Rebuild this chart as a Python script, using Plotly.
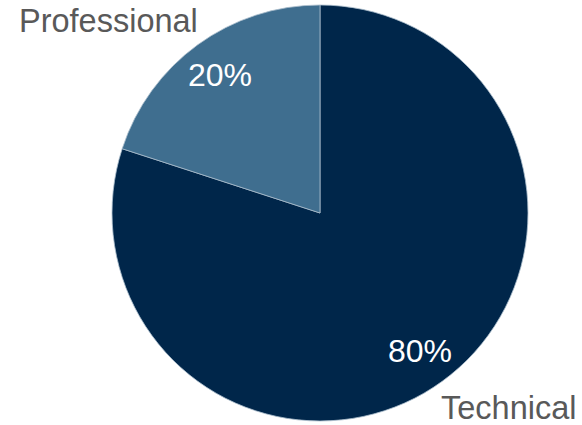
import math
import plotly.graph_objects as go

# Share of roles by category
categories = ["Technical", "Professional"]
shares = [80, 20]
slice_colors = ["#00264A", "#3F6E8F"]

W, H = 582, 425
cx, cy, r = 320, 213, 208  # pie centre and radius in pixels
label_radius = 0.82            # fraction of the radius for percentage labels

fig = go.Figure(
    go.Pie(
        labels=categories,
        values=shares,
        sort=False,
        direction="clockwise",
        rotation=0,
        marker=dict(colors=slice_colors, line=dict(color="#A9BCCB", width=0.8)),
        textinfo="none",
        hoverinfo="label+percent",
        domain=dict(x=[(cx - r) / W, (cx + r) / W], y=[(H - cy - r) / H, (H - cy + r) / H]),
        showlegend=False,
    )
)

# Percentage labels on each slice's bisector
pct_font = dict(family="Liberation Sans, Arial, sans-serif", size=32, color="white")
total = sum(shares)
cum = 0
for value in shares:
    theta = 2 * math.pi * (cum + value / 2) / total  # clockwise from 12 o'clock
    px = cx + label_radius * r * math.sin(theta)
    py = cy - label_radius * r * math.cos(theta)
    fig.add_annotation(text=f"{round(100 * value / total)}%", x=px / W, y=1 - py / H,
                       xref="paper", yref="paper", xanchor="center", yanchor="middle",
                       showarrow=False, font=pct_font)
    cum += value

# Category names placed outside the pie
name_font = dict(family="Liberation Sans, Arial, sans-serif", size=32.5, color="#595959")
fig.add_annotation(text=categories[1], x=17 / W, y=1 - 21 / H, xref="paper", yref="paper",
                   xanchor="left", yanchor="middle", showarrow=False, font=name_font)
fig.add_annotation(text=categories[0], x=579 / W, y=1 - 408 / H, xref="paper", yref="paper",
                   xanchor="right", yanchor="middle", showarrow=False, font=name_font)

fig.update_layout(
    width=W,
    height=H,
    margin=dict(l=0, r=0, t=0, b=0),
    paper_bgcolor="white",
    plot_bgcolor="white",
)

fig.write_html("out.html")
